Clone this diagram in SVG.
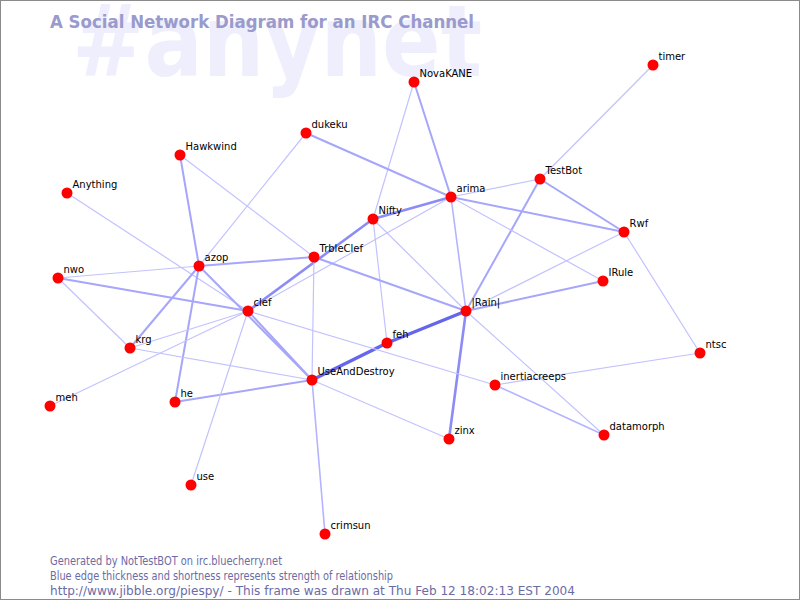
<svg xmlns="http://www.w3.org/2000/svg" width="800" height="600" viewBox="0 0 800 600">
<style>
.e{fill:none;stroke-linecap:round}
.w1{stroke:#c2c2ff;stroke-width:1.2}
.w15{stroke:#b4b4ff;stroke-width:1.6}
.w2{stroke:#a6a6fb;stroke-width:2}
.w3{stroke:#8c8cf6;stroke-width:2.6}
.w4{stroke:#6565ee;stroke-width:3.4}
.n circle{fill:#ff0000}
.n text{font-family:"DejaVu Sans","Liberation Sans",sans-serif;font-size:10px;fill:#000}
.foot{font-family:"DejaVu Sans","Liberation Sans",sans-serif;font-size:11.5px;fill:#6b6ba6}
</style>
<rect x="0.5" y="0.5" width="799" height="599" fill="#ffffff" stroke="#8a8a8a" stroke-width="1"/>
<text x="72" y="76" font-family="DejaVu Sans,Liberation Sans,sans-serif" font-weight="bold" font-size="100" fill="#eeeefd" textLength="410" lengthAdjust="spacingAndGlyphs">#anynet</text>
<text x="50" y="28" font-family="DejaVu Sans,Liberation Sans,sans-serif" font-weight="bold" font-size="17" fill="#9a9acc" textLength="424" lengthAdjust="spacingAndGlyphs">A Social Network Diagram for an IRC Channel</text>
<g id="connectors">
<line class="e w2" x1="414" y1="82" x2="451" y2="197"/>
<line class="e w1" x1="414" y1="82" x2="373" y2="219"/>
<line class="e w2" x1="306" y1="133" x2="451" y2="197"/>
<line class="e w1" x1="306" y1="133" x2="199" y2="266"/>
<line class="e w2" x1="180" y1="155" x2="199" y2="266"/>
<line class="e w1" x1="180" y1="155" x2="314" y2="257"/>
<line class="e w1" x1="67" y1="193" x2="248" y2="311"/>
<line class="e w1" x1="653" y1="65" x2="540" y2="179"/>
<line class="e w1" x1="540" y1="179" x2="451" y2="197"/>
<line class="e w2" x1="540" y1="179" x2="624" y2="232"/>
<line class="e w2" x1="540" y1="179" x2="466" y2="311"/>
<line class="e w2" x1="451" y1="197" x2="624" y2="232"/>
<line class="e w3" x1="451" y1="197" x2="373" y2="219"/>
<line class="e w15" x1="451" y1="197" x2="466" y2="311"/>
<line class="e w1" x1="451" y1="197" x2="603" y2="281"/>
<line class="e w1" x1="451" y1="197" x2="248" y2="311"/>
<line class="e w1" x1="624" y1="232" x2="466" y2="311"/>
<line class="e w1" x1="624" y1="232" x2="700" y2="353"/>
<line class="e w2" x1="603" y1="281" x2="466" y2="311"/>
<line class="e w4" x1="466" y1="311" x2="387" y2="343"/>
<line class="e w4" x1="387" y1="343" x2="312" y2="380"/>
<line class="e w3" x1="466" y1="311" x2="449" y2="439"/>
<line class="e w1" x1="466" y1="311" x2="604" y2="435"/>
<line class="e w1" x1="373" y1="219" x2="466" y2="311"/>
<line class="e w1" x1="373" y1="219" x2="387" y2="343"/>
<line class="e w2" x1="314" y1="257" x2="466" y2="311"/>
<line class="e w3" x1="248" y1="311" x2="373" y2="219"/>
<line class="e w2" x1="199" y1="266" x2="314" y2="257"/>
<line class="e w1" x1="199" y1="266" x2="58" y2="278"/>
<line class="e w2" x1="199" y1="266" x2="175" y2="402"/>
<line class="e w2" x1="199" y1="266" x2="130" y2="348"/>
<line class="e w2" x1="199" y1="266" x2="312" y2="380"/>
<line class="e w2" x1="58" y1="278" x2="248" y2="311"/>
<line class="e w1" x1="58" y1="278" x2="130" y2="348"/>
<line class="e w1" x1="130" y1="348" x2="248" y2="311"/>
<line class="e w1" x1="130" y1="348" x2="312" y2="380"/>
<line class="e w1" x1="50" y1="406" x2="248" y2="311"/>
<line class="e w2" x1="175" y1="402" x2="312" y2="380"/>
<line class="e w1" x1="248" y1="311" x2="191" y2="485"/>
<line class="e w2" x1="248" y1="311" x2="312" y2="380"/>
<line class="e w1" x1="248" y1="311" x2="495" y2="385"/>
<line class="e w1" x1="314" y1="257" x2="312" y2="380"/>
<line class="e w1" x1="312" y1="380" x2="449" y2="439"/>
<line class="e w15" x1="312" y1="380" x2="325" y2="534"/>
<line class="e w1" x1="495" y1="385" x2="700" y2="353"/>
<line class="e w15" x1="495" y1="385" x2="604" y2="435"/>
</g>
<g id="node-NovaKANE" class="n"><circle cx="414" cy="82" r="5.5"/><text x="419.5" y="77">NovaKANE</text></g>
<g id="node-timer" class="n"><circle cx="653" cy="65" r="5.5"/><text x="658.5" y="60">timer</text></g>
<g id="node-dukeku" class="n"><circle cx="306" cy="133" r="5.5"/><text x="311.5" y="128">dukeku</text></g>
<g id="node-Hawkwind" class="n"><circle cx="180" cy="155" r="5.5"/><text x="185.5" y="150">Hawkwind</text></g>
<g id="node-Anything" class="n"><circle cx="67" cy="193" r="5.5"/><text x="72.5" y="188">Anything</text></g>
<g id="node-TestBot" class="n"><circle cx="540" cy="179" r="5.5"/><text x="545.5" y="174">TestBot</text></g>
<g id="node-arima" class="n"><circle cx="451" cy="197" r="5.5"/><text x="456.5" y="192">arima</text></g>
<g id="node-Nifty" class="n"><circle cx="373" cy="219" r="5.5"/><text x="378.5" y="214">Nifty</text></g>
<g id="node-Rwf" class="n"><circle cx="624" cy="232" r="5.5"/><text x="629.5" y="227">Rwf</text></g>
<g id="node-TrbleClef" class="n"><circle cx="314" cy="257" r="5.5"/><text x="319.5" y="252">TrbleClef</text></g>
<g id="node-azop" class="n"><circle cx="199" cy="266" r="5.5"/><text x="204.5" y="261">azop</text></g>
<g id="node-nwo" class="n"><circle cx="58" cy="278" r="5.5"/><text x="63.5" y="273">nwo</text></g>
<g id="node-IRule" class="n"><circle cx="603" cy="281" r="5.5"/><text x="608.5" y="276">IRule</text></g>
<g id="node-clef" class="n"><circle cx="248" cy="311" r="5.5"/><text x="253.5" y="306">clef</text></g>
<g id="node-Rain" class="n"><circle cx="466" cy="311" r="5.5"/><text x="471.5" y="306">|Rain|</text></g>
<g id="node-krg" class="n"><circle cx="130" cy="348" r="5.5"/><text x="135.5" y="343">krg</text></g>
<g id="node-feh" class="n"><circle cx="387" cy="343" r="5.5"/><text x="392.5" y="338">feh</text></g>
<g id="node-ntsc" class="n"><circle cx="700" cy="353" r="5.5"/><text x="705.5" y="348">ntsc</text></g>
<g id="node-UseAndDestroy" class="n"><circle cx="312" cy="380" r="5.5"/><text x="317.5" y="375">UseAndDestroy</text></g>
<g id="node-inertiacreeps" class="n"><circle cx="495" cy="385" r="5.5"/><text x="500.5" y="380">inertiacreeps</text></g>
<g id="node-he" class="n"><circle cx="175" cy="402" r="5.5"/><text x="180.5" y="397">he</text></g>
<g id="node-meh" class="n"><circle cx="50" cy="406" r="5.5"/><text x="55.5" y="401">meh</text></g>
<g id="node-zinx" class="n"><circle cx="449" cy="439" r="5.5"/><text x="454.5" y="434">zinx</text></g>
<g id="node-datamorph" class="n"><circle cx="604" cy="435" r="5.5"/><text x="609.5" y="430">datamorph</text></g>
<g id="node-use" class="n"><circle cx="191" cy="485" r="5.5"/><text x="196.5" y="480">use</text></g>
<g id="node-crimsun" class="n"><circle cx="325" cy="534" r="5.5"/><text x="330.5" y="529">crimsun</text></g>
<text class="foot" x="50" y="565" textLength="232" lengthAdjust="spacingAndGlyphs">Generated by NotTestBOT on irc.bluecherry.net</text>
<text class="foot" x="50" y="580" textLength="343" lengthAdjust="spacingAndGlyphs">Blue edge thickness and shortness represents strength of relationship</text>
<text class="foot" x="50" y="595" textLength="525" lengthAdjust="spacingAndGlyphs">http://www.jibble.org/piespy/ - This frame was drawn at Thu Feb 12 18:02:13 EST 2004</text>
</svg>
